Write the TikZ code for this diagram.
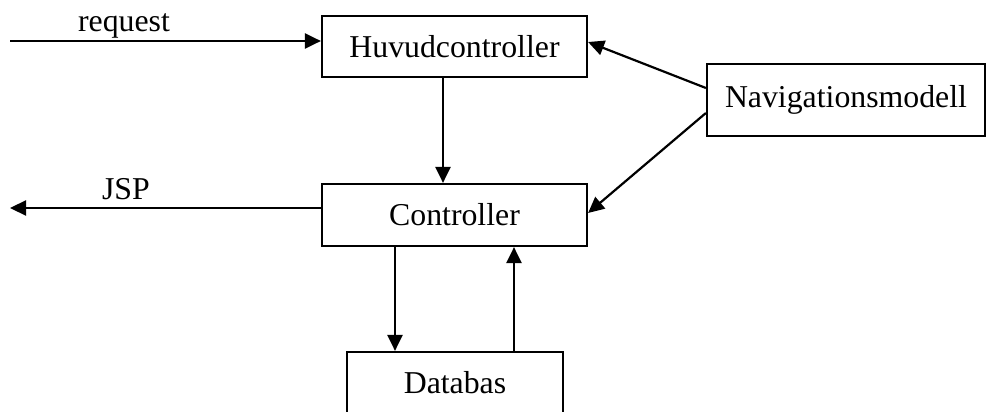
\documentclass[tikz,border=0pt]{standalone}
\usepackage{fontspec}
\setmainfont{Liberation Serif}
\usetikzlibrary{arrows.meta}
\begin{document}
\begin{tikzpicture}[x=1pt,y=-1pt,
  box/.style={draw, line width=2.2pt, rectangle, inner sep=0pt, font=\fontsize{31.8pt}{38pt}\selectfont},
  lbl/.style={inner sep=0pt, anchor=base, font=\fontsize{31.8pt}{38pt}\selectfont},
  conn/.style={line width=2.2pt, -{Triangle[length=16pt,width=15pt]}}]
\useasboundingbox (0,0) rectangle (986,412);
\clip (0,0) rectangle (986,412);
\node[box, minimum width=265pt, minimum height=61pt] (huvud) at (454.5,46.5) {Huvudcontroller};
\node[box, minimum width=265pt, minimum height=62pt] (ctrl) at (454.5,215) {Controller};
\node[box, minimum width=278pt, minimum height=72pt] (navig) at (846,100) {Navigationsmodell};
\node[box, minimum width=216pt, minimum height=62pt] (db) at (455,383) {Databas};
\coordinate (reqS) at (10,41);
\coordinate (jspE) at (10,208);
\node[lbl] (reqlbl) at (124,32) {request};
\node[lbl] (jsplbl) at (126,199) {JSP};
\draw[conn] (reqS) -- (reqS -| huvud.west);
\draw[conn] (ctrl.west |- jspE) -- (jspE);
\draw[conn] ([xshift=-11.5pt]huvud.south) -- ([xshift=-11.5pt]ctrl.north);
\draw[conn] ([xshift=-59.5pt]ctrl.south) -- ([xshift=-60pt]db.north);
\draw[conn] ([xshift=59pt]db.north) -- ([xshift=59.5pt]ctrl.south);
\draw[conn] ([yshift=12pt]navig.west) -- ([yshift=4.5pt]huvud.east);
\draw[conn] ([yshift=-13pt]navig.west) -- ([yshift=2pt]ctrl.east);
\end{tikzpicture}
\end{document}
